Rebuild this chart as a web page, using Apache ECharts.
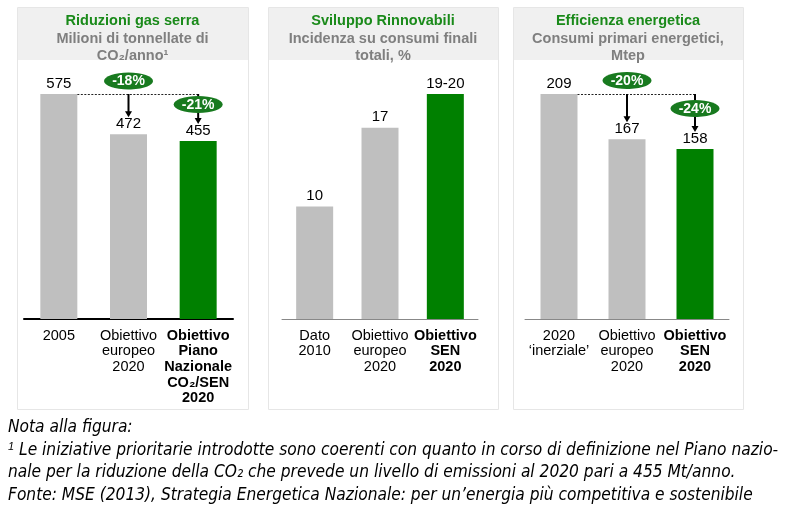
<!DOCTYPE html>
<html><head><meta charset="utf-8">
<script src="https://cdn.jsdelivr.net/npm/echarts@6/dist/echarts.min.js"></script>
<style>html,body{margin:0;padding:0;background:#fff}#c{width:787px;height:515px}</style>
</head><body><div id="c"></div>
<script>
// ---- data ----
const ghgCategories = ['2005', 'Obiettivo\neuropeo\n2020', 'Obiettivo\nPiano\nNazionale\nCO₂/SEN\n2020'];
const ghgValues = [575, 472, 455];
const ghgDrops = ['-18%', '-21%'];

const renCategories = ['Dato\n2010', 'Obiettivo\neuropeo\n2020', 'Obiettivo\nSEN\n2020'];
const renValues = [10, 17, 20];
const renLabels = ['10', '17', '19-20'];

const effCategories = ['2020\n‘inerziale’', 'Obiettivo\neuropeo\n2020', 'Obiettivo\nSEN\n2020'];
const effValues = [209, 167, 158];
const effDrops = ['-20%', '-24%'];

const titles = ['Riduzioni gas serra', 'Sviluppo Rinnovabili', 'Efficienza energetica'];
const subtitles = ['Milioni di tonnellate di\nCO₂/anno¹', 'Incidenza su consumi finali\ntotali, %', 'Consumi primari energetici,\nMtep'];

// ---- styles ----
const GRAY = '#bfbfbf', GREEN = '#008000', DARKGREEN = '#187a1f';
const FONT = 'Liberation Sans, Arial, sans-serif';
const panels = [
  {x: 17, w: 231, gl: 24, gw: 209, cats: ghgCategories, vals: ghgValues, axisColor: '#000', axisW: 2},
  {x: 268, w: 230, gl: 282, gw: 196, cats: renCategories, vals: renValues, axisColor: '#888', axisW: 1},
  {x: 513, w: 230, gl: 525, gw: 204, cats: effCategories, vals: effValues, axisColor: '#888', axisW: 1}
];

const chart = echarts.init(document.getElementById('c'), null, {renderer: 'canvas'});

const grid = [], xAxis = [], yAxis = [], series = [], graphic = [];
panels.forEach((p, k) => {
  grid.push({left: p.gl, width: p.gw, top: 94, bottom: 196});
  xAxis.push({
    type: 'category', gridIndex: k,
    data: p.cats.map((c, i) => i === 2 ? {value: c, textStyle: {fontWeight: 'bold'}} : c),
    axisLine: {lineStyle: {color: p.axisColor, width: p.axisW}},
    axisTick: {show: false},
    axisLabel: {interval: 0, color: '#000', fontFamily: FONT, fontSize: 14.5, lineHeight: 15.6, margin: 9, verticalAlign: 'top'}
  });
  yAxis.push({type: 'value', gridIndex: k, min: 0, max: Math.max(...p.vals), show: false, splitLine: {show: false}});
  series.push({
    type: 'bar', xAxisIndex: k, yAxisIndex: k, barWidth: 37,
    data: p.vals.map((v, i) => ({value: v, itemStyle: {color: i === 2 ? GREEN : GRAY}})),
    label: {
      show: true, position: 'top', distance: 3, color: '#000', fontFamily: FONT, fontSize: 15,
      formatter: k === 1 ? (d) => renLabels[d.dataIndex] : '{c}'
    },
    silent: true, animation: false
  });
  // panel frame and header
  graphic.push({type: 'rect', shape: {x: p.x + 0.5, y: 7.5, width: p.w, height: 402}, style: {fill: '#fff', stroke: '#e6e6e6', lineWidth: 1}, z: -10});
  graphic.push({type: 'rect', shape: {x: p.x + 1, y: 8, width: p.w - 1, height: 52}, style: {fill: '#f0f0f0'}, z: -9});
  graphic.push({type: 'text', x: p.x + p.w / 2, y: 21, style: {text: titles[k], fill: '#1a8a1a', font: 'bold 14.5px ' + FONT, align: 'center', verticalAlign: 'middle'}, z: 5});
  graphic.push({type: 'text', x: p.x + p.w / 2, y: 30, style: {text: subtitles[k], fill: '#7f7f7f', font: 'bold 14.5px ' + FONT, align: 'center', verticalAlign: 'top', lineHeight: 17}, z: 5});
});

// annotation series (dashed reference line, arrows, percentage ellipses)
function annotSeries(k, vals, drops, dys) {
  return {
    type: 'custom', xAxisIndex: k, yAxisIndex: k, silent: true, animation: false, z: 10,
    data: [[1, vals[0], vals[1]], [2, vals[0], vals[2]]],
    encode: {x: 0, y: 1},
    renderItem: function (params, api) {
      const i = api.value(0), ref = api.value(1), tgt = api.value(2);
      const pRef = api.coord([i, ref]);
      const pTgt = api.coord([i, tgt]);
      const p0 = api.coord([0, ref]);
      const x = pRef[0], yRef = pRef[1];
      const children = [];
      if (params.dataIndex === 0) {
        const pEnd = api.coord([2, ref]);
        children.push({type: 'line', shape: {x1: p0[0] + 18.5, y1: yRef + 0.5, x2: pEnd[0], y2: yRef + 0.5},
          style: {stroke: '#222', lineWidth: 1, lineDash: [2, 1.5]}});
      }
      const cy = yRef + dys[params.dataIndex];
      const headY = pTgt[1] - 17;
      const startY = dys[params.dataIndex] < 0 ? yRef : cy + 8;
      if (dys[params.dataIndex] > 0) {
        children.push({type: 'line', shape: {x1: x, y1: yRef, x2: x, y2: cy}, style: {stroke: '#000', lineWidth: 2}});
      }
      children.push({type: 'line', shape: {x1: x, y1: startY, x2: x, y2: headY - 5}, style: {stroke: '#000', lineWidth: 2}});
      children.push({type: 'polygon', shape: {points: [[x - 3.5, headY - 6], [x + 3.5, headY - 6], [x, headY]]}, style: {fill: '#000'}});
      children.push({type: 'ellipse', shape: {cx: x, cy: cy, rx: 24.5, ry: 8.5}, style: {fill: DARKGREEN}});
      children.push({type: 'text', x: x, y: cy + 0.5, style: {text: drops[params.dataIndex], fill: '#fff', font: 'bold 14px ' + FONT, align: 'center', verticalAlign: 'middle'}});
      return {type: 'group', children: children};
    }
  };
}
series.push(annotSeries(0, ghgValues, ghgDrops, [-13, 10.5]));
series.push(annotSeries(2, effValues, effDrops, [-13.5, 14.5]));

// footnote
const NFONT = 'italic 17.2px "Liberation Sans Narrow", "DejaVu Sans Condensed", sans-serif';
graphic.push({type: 'text', left: 8, top: 419, style: {text: 'Nota alla figura:', fill: '#000', font: NFONT}});
graphic.push({type: 'text', left: 8, top: 441, style: {
  text: '{s|1} Le iniziative prioritarie introdotte sono coerenti con quanto in corso di definizione nel Piano nazio-',
  fill: '#000', font: NFONT,
  rich: {s: {fontSize: 11, fontStyle: 'italic', verticalAlign: 'top', padding: [0, 0, 8, 0], fontFamily: '"Liberation Sans Narrow", sans-serif'}}
}});
graphic.push({type: 'text', left: 8, top: 464, style: {text: 'nale per la riduzione della CO₂ che prevede un livello di emissioni al 2020 pari a 455 Mt/anno.', fill: '#000', font: NFONT}});
graphic.push({type: 'text', left: 8, top: 487, style: {text: 'Fonte: MSE (2013), Strategia Energetica Nazionale: per un’energia più competitiva e sostenibile', fill: '#000', font: NFONT}});

chart.setOption({animation: false, grid, xAxis, yAxis, series, graphic});
</script></body></html>
